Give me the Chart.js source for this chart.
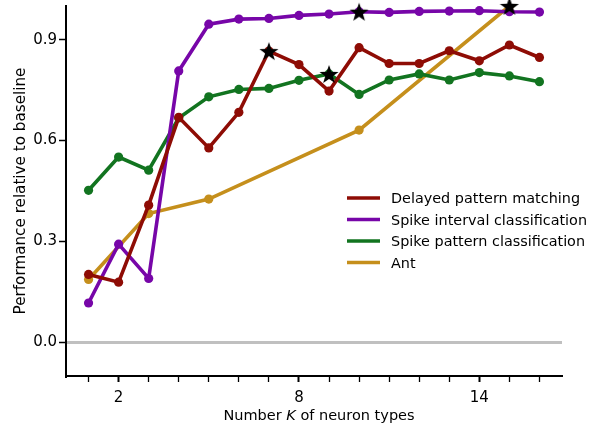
<!DOCTYPE html>
<html>
<head>
<meta charset="utf-8">
<script src="https://cdn.jsdelivr.net/npm/chart.js@4/dist/chart.umd.min.js"></script>
<style>
  html, body { margin: 0; padding: 0; background: #fff; }
  canvas { display: block; }
</style>
</head>
<body>
<canvas id="c" width="589" height="430"></canvas>
<script>
// Liczba typów neuronów K i wyniki względem baseline.
const K = [1, 2, 3, 4, 5, 6, 7, 8, 9, 10, 11, 12, 13, 14, 15, 16];
const DELAYED = [0.202, 0.179, 0.408, 0.669, 0.578, 0.684, 0.866, 0.826, 0.747, 0.876, 0.829, 0.829, 0.867, 0.837, 0.884, 0.847];
const INTERVAL = [0.117, 0.292, 0.190, 0.807, 0.946, 0.961, 0.963, 0.972, 0.976, 0.983, 0.981, 0.984, 0.985, 0.986, 0.983, 0.982];
const PATTERN = [0.452, 0.551, 0.512, 0.667, 0.730, 0.752, 0.755, 0.779, 0.798, 0.737, 0.780, 0.798, 0.780, 0.802, 0.792, 0.775];
const ANT_K = [1, 3, 5, 10, 15];
const ANT = [0.187, 0.383, 0.426, 0.631, 1.0];
// najlepszy K w każdej serii (czarna gwiazdka)
const BEST_K = [7, 10, 9, 15];

const LABELS = ["Delayed pattern matching", "Spike interval classification", "Spike pattern classification", "Ant"];
const COLORS = ["#8e0c05", "#7706a8", "#127420", "#c58f1c"];
const X_TICKS = K;
const X_LABELED = [2, 8, 14];
const Y_TICKS = [0.0, 0.3, 0.6, 0.9];

const FONT = "'DejaVu Sans', sans-serif";
const pts = (xs, ys) => xs.map((x, i) => ({ x, y: ys[i] }));
const seriesPts = [pts(K, DELAYED), pts(K, INTERVAL), pts(K, PATTERN), pts(ANT_K, ANT)];
const stars = BEST_K.map((k, i) => seriesPts[i].find((p) => p.x === k));

function starImage(size) {
  const c = document.createElement("canvas");
  c.width = c.height = size;
  const g = c.getContext("2d");
  g.beginPath();
  for (let i = 0; i < 10; i++) {
    const r = i % 2 ? size * 0.2 : size * 0.5;
    const a = -Math.PI / 2 + i * Math.PI / 5;
    g.lineTo(size / 2 + r * Math.cos(a), size / 2 + 1 + r * Math.sin(a));
  }
  g.closePath();
  g.fillStyle = "#000";
  g.fill();
  return c;
}

// legenda i tytuły osi rysowane ręcznie (kursywa K, własny układ)
const extras = {
  id: "extras",
  afterDraw(chart) {
    const { ctx, chartArea: a } = chart;
    ctx.save();
    // legenda
    LABELS.forEach((l, i) => {
      const y = 198 + i * 21.5;
      ctx.strokeStyle = COLORS[i];
      ctx.lineWidth = 3.4;
      ctx.beginPath();
      ctx.moveTo(347, y);
      ctx.lineTo(380, y);
      ctx.stroke();
      ctx.fillStyle = "#000";
      ctx.font = `14.4px ${FONT}`;
      ctx.textBaseline = "alphabetic";
      ctx.textAlign = "left";
      ctx.fillText(l, 391, y + 5);
    });
    // tytuł osi X
    const parts = [["Number ", ""], ["K", "italic "], [" of neuron types", ""]];
    const w = parts.reduce((s, [t, st]) => { ctx.font = `${st}14.5px ${FONT}`; return s + ctx.measureText(t).width; }, 0);
    let x = (a.left + a.right) / 2 - w / 2 + 5;
    parts.forEach(([t, st]) => {
      ctx.font = `${st}14.5px ${FONT}`;
      ctx.fillText(t, x, 420);
      x += ctx.measureText(t).width;
    });
    // tytuł osi Y
    ctx.translate(25, (a.top + a.bottom) / 2);
    ctx.rotate(-Math.PI / 2);
    ctx.textAlign = "center";
    ctx.font = `15.2px ${FONT}`;
    ctx.fillText("Performance relative to baseline", 0, 0);
    ctx.restore();
  },
};

const datasets = seriesPts.map((d, i) => ({
  label: LABELS[i], data: d,
  borderColor: COLORS[i], backgroundColor: COLORS[i],
  borderWidth: 3.6, pointRadius: 4.6, pointBorderWidth: 0,
  tension: 0, order: i,
}));
datasets.push({
  label: "best", data: stars, showLine: false,
  pointStyle: starImage(20), pointRadius: 10, clip: false, order: -1,
});

new Chart(document.getElementById("c"), {
  type: "line",
  data: { datasets },
  options: {
    responsive: false, animation: false, devicePixelRatio: 1,
    layout: { autoPadding: false, padding: { left: 0, top: 6, right: 27, bottom: 0 } },
    plugins: { legend: { display: false }, tooltip: { enabled: false } },
    scales: {
      x: {
        type: "linear", min: 0.25, max: 16.75,
        afterBuildTicks: (s) => { s.ticks = X_TICKS.map((v) => ({ value: v })); },
        afterFit: (s) => { s.height = 54; s.paddingLeft = 0; s.paddingRight = 0; },
        border: { display: true, color: "#000", width: 2 },
        grid: {
          drawOnChartArea: false, drawTicks: true, tickLength: 6,
          tickColor: "#000",
          tickWidth: (c) => (X_LABELED.includes(c.tick.value) ? 2 : 1.3),
        },
        ticks: {
          color: "#000", font: { family: FONT, size: 15 }, padding: 7,
          maxRotation: 0, autoSkip: false,
          callback: (v) => (X_LABELED.includes(v) ? String(v) : ""),
        },
      },
      y: {
        min: -0.1, max: 1.0,
        afterBuildTicks: (s) => { s.ticks = Y_TICKS.map((v) => ({ value: v })); },
        afterFit: (s) => { s.width = 66; s.paddingTop = 0; s.paddingBottom = 0; },
        border: { display: true, color: "#000", width: 2 },
        grid: {
          drawOnChartArea: true, drawTicks: true, tickLength: 7,
          color: (c) => (c.tick && c.tick.value === 0 ? "#c0c0c0" : "rgba(0,0,0,0)"),
          lineWidth: 3,
          tickColor: "#000", tickWidth: 1.5,
        },
        ticks: {
          color: "#000", font: { family: FONT, size: 15 }, padding: 2,
          callback: (v) => v.toFixed(1),
        },
      },
    },
  },
  plugins: [extras],
});
</script>
</body>
</html>
